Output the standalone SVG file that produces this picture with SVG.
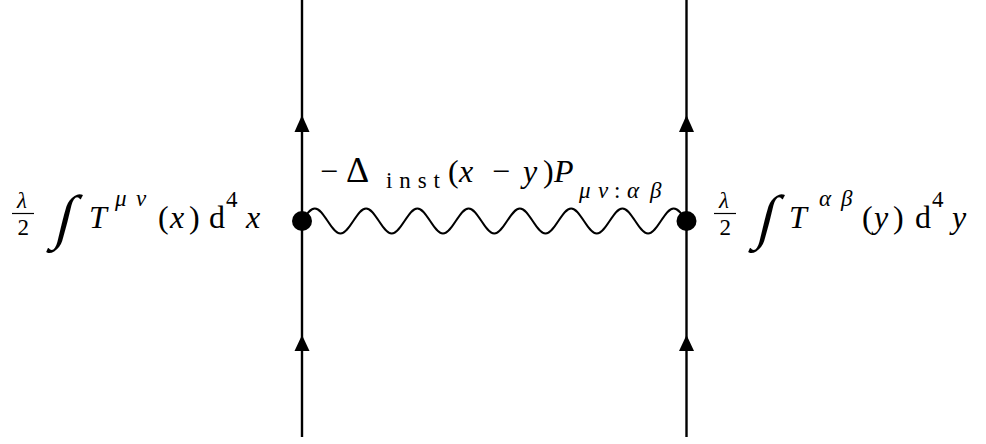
<svg xmlns="http://www.w3.org/2000/svg" width="986" height="444" viewBox="0 0 986 444">
<style>
.ln{stroke:#000;stroke-width:2.4;fill:none}
.wv{stroke:#000;stroke-width:2;fill:none}
.ar{fill:#000}
.t{font-family:"Liberation Serif","Times New Roman",serif;font-size:32px;fill:#000}
.s{font-size:23px}
.i{font-style:italic}
.big{font-size:60px}
.bar{stroke:#000;stroke-width:1.2}
</style>
<rect width="986" height="444" fill="#fff"/>
<g id="connectors">
  <line class="ln" x1="302" y1="0" x2="302" y2="437"/>
  <line class="ln" x1="686.5" y1="0" x2="686.5" y2="437"/>
  <polygon class="ar" points="302,115 294.5,132 309.5,132"/>
  <polygon class="ar" points="302,335 294.5,351 309.5,351"/>
  <polygon class="ar" points="686.5,115 679,132 694,132"/>
  <polygon class="ar" points="686.5,335 679,351 694,351"/>
  <path class="wv" d="M302,221
  c4.18,-6.4 8.18,-12.5 12.817,-12.5 c4.637,0 8.637,6.1 12.817,12.5 c4.18,6.4 8.18,12.5 12.817,12.5 c4.637,0 8.637,-6.1 12.817,-12.5
  c4.18,-6.4 8.18,-12.5 12.817,-12.5 c4.637,0 8.637,6.1 12.817,12.5 c4.18,6.4 8.18,12.5 12.817,12.5 c4.637,0 8.637,-6.1 12.817,-12.5
  c4.18,-6.4 8.18,-12.5 12.817,-12.5 c4.637,0 8.637,6.1 12.817,12.5 c4.18,6.4 8.18,12.5 12.817,12.5 c4.637,0 8.637,-6.1 12.817,-12.5
  c4.18,-6.4 8.18,-12.5 12.817,-12.5 c4.637,0 8.637,6.1 12.817,12.5 c4.18,6.4 8.18,12.5 12.817,12.5 c4.637,0 8.637,-6.1 12.817,-12.5
  c4.18,-6.4 8.18,-12.5 12.817,-12.5 c4.637,0 8.637,6.1 12.817,12.5 c4.18,6.4 8.18,12.5 12.817,12.5 c4.637,0 8.637,-6.1 12.817,-12.5
  c4.18,-6.4 8.18,-12.5 12.817,-12.5 c4.637,0 8.637,6.1 12.817,12.5 c4.18,6.4 8.18,12.5 12.817,12.5 c4.637,0 8.637,-6.1 12.817,-12.5
  c4.18,-6.4 8.18,-12.5 12.817,-12.5 c4.637,0 8.637,6.1 12.817,12.5 c4.18,6.4 8.18,12.5 12.817,12.5 c4.637,0 8.637,-6.1 12.817,-12.5
  c4.18,-6.4 8.18,-12.5 12.817,-12.5 c4.637,0 8.637,6.1 12.817,12.5"/>
  <g id="wave-label" class="t">
    <text x="320" y="182">−</text>
    <text x="346" y="182" font-size="36">Δ</text>
    <text class="s" x="386" y="188" font-size="24" textLength="54" lengthAdjust="spacing">inst</text>
    <text x="448" y="182">(</text>
    <text class="i" x="459" y="182">x</text>
    <text x="492" y="182">−</text>
    <text class="i" x="523" y="182">y</text>
    <text x="543" y="182">)</text>
    <text class="i" x="554" y="182">P</text>
    <text class="s i" x="579" y="198">μ</text>
    <text class="s i" x="598" y="198">ν</text>
    <text class="s" x="614" y="198">:</text>
    <text class="s i" x="627" y="198">α</text>
    <text class="s i" x="650" y="198">β</text>
  </g>
</g>
<g id="vertex-x">
  <circle cx="302" cy="221" r="10" fill="#000"/>
  <g class="t">
    <text class="s i" x="17" y="208">λ</text>
    <line class="bar" x1="12" y1="213.5" x2="34" y2="213.5"/>
    <text class="s" x="17.5" y="235">2</text>
    <text class="big" transform="translate(53,237) skewX(-14)">∫</text>
    <text class="i" x="89" y="228">T</text>
    <text class="s i" x="115" y="206">μ</text>
    <text class="s i" x="136" y="206">ν</text>
    <text x="158" y="228">(</text>
    <text class="i" x="170" y="228">x</text>
    <text x="189" y="228">)</text>
    <text x="209" y="228">d</text>
    <text class="s" x="226" y="207">4</text>
    <text class="i" x="246" y="228">x</text>
  </g>
</g>
<g id="vertex-y">
  <circle cx="686.5" cy="221" r="10" fill="#000"/>
  <g class="t">
    <text class="s i" x="719" y="208">λ</text>
    <line class="bar" x1="714" y1="213.5" x2="736" y2="213.5"/>
    <text class="s" x="719.5" y="235">2</text>
    <text class="big" transform="translate(755,237) skewX(-14)">∫</text>
    <text class="i" x="789" y="228">T</text>
    <text class="s i" x="819" y="206">α</text>
    <text class="s i" x="841" y="206">β</text>
    <text x="862" y="228">(</text>
    <text class="i" x="874" y="228">y</text>
    <text x="893" y="228">)</text>
    <text x="915" y="228">d</text>
    <text class="s" x="932" y="207">4</text>
    <text class="i" x="952" y="228">y</text>
  </g>
</g>
</svg>
